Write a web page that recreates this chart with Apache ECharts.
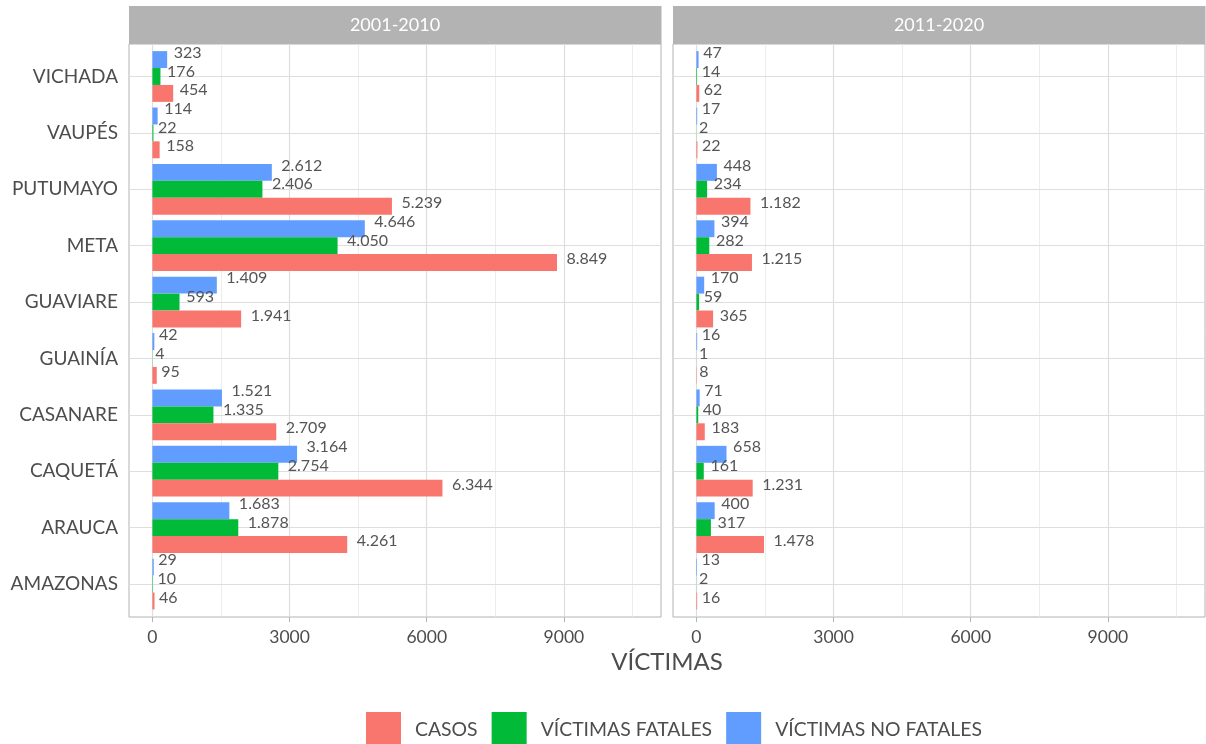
<!DOCTYPE html>
<html>
<head>
<meta charset="utf-8">
<script src="https://cdn.jsdelivr.net/npm/echarts@6/dist/echarts.min.js"></script>
<style>html,body{margin:0;padding:0;background:#fff}#c{width:1206px;height:744px}</style>
</head>
<body>
<div id="c"></div>
<script>
const categories = ['AMAZONAS','ARAUCA','CAQUETÁ','CASANARE','GUAINÍA','GUAVIARE','META','PUTUMAYO','VAUPÉS','VICHADA'];
const periods = ['2001-2010','2011-2020'];
const seriesNames = ['CASOS','VÍCTIMAS FATALES','VÍCTIMAS NO FATALES'];
const casos_2001 = [46, 4261, 6344, 2709, 95, 1941, 8849, 5239, 158, 454];
const fatales_2001 = [10, 1878, 2754, 1335, 4, 593, 4050, 2406, 22, 176];
const noFatales_2001 = [29, 1683, 3164, 1521, 42, 1409, 4646, 2612, 114, 323];
const casos_2011 = [16, 1478, 1231, 183, 8, 365, 1215, 1182, 22, 62];
const fatales_2011 = [2, 317, 161, 40, 1, 59, 282, 234, 2, 14];
const noFatales_2011 = [13, 400, 658, 71, 16, 170, 394, 448, 17, 47];
const xTicks = [0, 3000, 6000, 9000];
const xMinor = [1500, 4500, 7500, 10500];

const FONT = 'Lato';
const colors = ['#F8766D', '#00BA38', '#619CFF'];
const labelDy = [-3.5, -5, -7];
const X_MIN = -512, X_MAX = 11124;
const panelLeft = [129, 673], panelW = 532;
const panelTop = 44, panelH = 573;
const barTop = 48.3, barH = 563.9;
const VAL_FS = 16;

const ctx = document.createElement('canvas').getContext('2d');
ctx.font = VAL_FS + 'px ' + FONT;
function fmt(v) { return String(v).replace(/\B(?=(\d{3})+(?!\d))/g, '.'); }

const panelData = [
  [casos_2001, fatales_2001, noFatales_2001],
  [casos_2011, fatales_2011, noFatales_2011]
];
// ECharts places the first series of a horizontal group at the top
const drawOrder = [2, 1, 0];

const grid = [], xAxis = [], yAxis = [], series = [], graphic = [];
for (let p = 0; p < 2; p++) {
  grid.push({left: panelLeft[p], top: panelTop, width: panelW, height: panelH, show: true,
    backgroundColor: '#fff', borderColor: '#b3b3b3', borderWidth: 1, containLabel: false});
  grid.push({left: panelLeft[p], top: barTop, width: panelW, height: barH, show: false, containLabel: false});
  xAxis.push({type: 'value', gridIndex: 2*p, min: X_MIN, max: X_MAX,
    axisLine: {show: false}, splitLine: {show: false},
    axisTick: {show: true, length: 5, customValues: xTicks, lineStyle: {color: '#b3b3b3', width: 1}},
    axisLabel: {show: true, customValues: xTicks, margin: 11, fontSize: 17.5, fontFamily: FONT, color: '#4d4d4d',
      formatter: v => String(v)}});
  xAxis.push({type: 'value', gridIndex: 2*p+1, min: X_MIN, max: X_MAX, show: false,
    splitLine: {show: false}});
  yAxis.push({type: 'value', gridIndex: 2*p, min: 0, max: 1, show: false, splitLine: {show: false}});
  yAxis.push({type: 'category', gridIndex: 2*p+1, data: categories,
    axisLine: {show: false}, splitLine: {show: false},
    axisTick: {show: p === 0, alignWithLabel: true, length: 6, lineStyle: {color: '#b3b3b3', width: 1}},
    axisLabel: {show: p === 0, margin: 11, fontSize: 19, fontFamily: FONT, color: '#4d4d4d'}});

  series.push({type: 'line', name: 'gridV' + p, data: [], xAxisIndex: 2*p, yAxisIndex: 2*p, z: 1, silent: true,
    markLine: {silent: true, symbol: 'none', z: 1, animation: false, label: {show: false},
      data: xTicks.map(v => ({xAxis: v, lineStyle: {color: '#dedede', width: 1.2, type: 'solid'}}))
        .concat(xMinor.map(v => ({xAxis: v, lineStyle: {color: '#e8e8e8', width: 0.8, type: 'solid'}})))}});
  series.push({type: 'line', name: 'gridH' + p, data: [], xAxisIndex: 2*p+1, yAxisIndex: 2*p+1, z: 1, silent: true,
    markLine: {silent: true, symbol: 'none', z: 1, animation: false, label: {show: false},
      data: categories.map(c => ({yAxis: c, lineStyle: {color: '#dedede', width: 1.2, type: 'solid'}}))}});

  for (const s of drawOrder) {
    const vals = panelData[p][s];
    series.push({
      type: 'bar', name: seriesNames[s], xAxisIndex: 2*p+1, yAxisIndex: 2*p+1,
      barCategoryGap: '10%', barGap: '0%', z: 2, animation: false,
      itemStyle: {color: colors[s]},
      data: vals.map(v => {
        const w = ctx.measureText(fmt(v)).width;
        return {value: v, label: {distance: 0.22 * w + 0.5}};
      }),
      label: {show: true, position: 'right', offset: [0, labelDy[s]], fontSize: VAL_FS, fontFamily: FONT,
        color: '#555555', formatter: d => fmt(d.value)}
    });
  }

  graphic.push({type: 'rect', shape: {x: panelLeft[p], y: 6, width: panelW + 0.5, height: 38}, style: {fill: '#b3b3b3'}, z: 10});
  graphic.push({type: 'text', x: panelLeft[p] + panelW / 2, y: 25, z: 11,
    style: {text: periods[p], fill: '#ffffff', fontSize: 18, fontFamily: FONT, align: 'center', verticalAlign: 'middle'}});
}
graphic.push({type: 'text', x: 667, y: 662, z: 11,
  style: {text: 'VÍCTIMAS', fill: '#4d4d4d', fontSize: 24, fontFamily: FONT, align: 'center', verticalAlign: 'middle'}});

const chart = echarts.init(document.getElementById('c'), null, {renderer: 'canvas'});
chart.setOption({
  animation: false,
  backgroundColor: '#fff',
  grid, xAxis, yAxis, series, graphic,
  legend: {data: seriesNames, left: 366, top: 712, padding: 0, itemWidth: 35, itemHeight: 35, itemGap: 14, icon: 'rect',
    selectedMode: false,
    textStyle: {fontSize: 19.4, fontFamily: FONT, color: '#4d4d4d', padding: [0, 0, 0, 9]}}
});
</script>
</body>
</html>
